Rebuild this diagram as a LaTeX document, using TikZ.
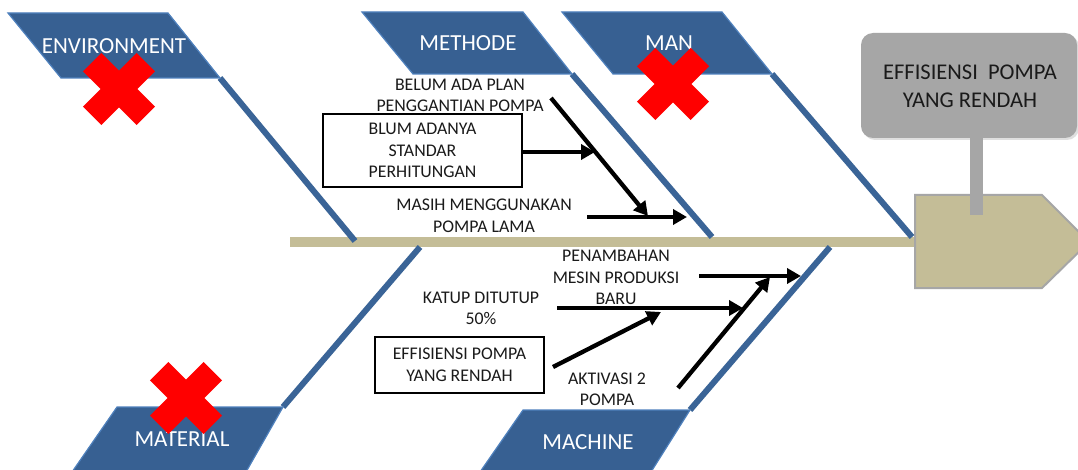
\documentclass[tikz,border=0pt]{standalone}
\usepackage{fontspec}
\setmainfont{Carlito}
\usetikzlibrary{arrows.meta,shadows}
\definecolor{bluefill}{HTML}{376092}
\definecolor{blueedge}{HTML}{4F81BD}
\definecolor{bonecol}{HTML}{3A6497}
\definecolor{tancol}{HTML}{C4BD97}
\definecolor{callgray}{HTML}{A6A6A6}
\definecolor{txtcol}{HTML}{1A1A1A}
\begin{document}
\begin{tikzpicture}[x=1pt,y=-1pt,
  cat/.style={text=white,font=\fontsize{23}{27}\selectfont,inner sep=0pt},
  lbl/.style={text=txtcol,font=\fontsize{17.8}{21.5}\selectfont,align=center,inner sep=0pt},
  framed/.style={draw=black,line width=2pt},
  arr/.style={draw=black,line width=4.3pt,-{Triangle[length=14pt,width=15pt]}},
  bonestyle/.style={draw=bonecol,line width=6pt},
  catshape/.style={fill=bluefill,draw=blueedge,line width=1.2pt},
  redx/.style={fill=red}]
\useasboundingbox (0,0) rectangle (1078,470);
\clip (0,0) rectangle (1078,470);
\fill[white] (0,0) rectangle (1078,470);

% spine
\fill[tancol] (290,237) rectangle (916,247);

% head
\draw[fill=tancol,draw=callgray,line width=2pt] (915,195) -- (1042,195) -- (1089,242) -- (1042,288) -- (915,288) -- cycle;

% callout
\fill[callgray,rounded corners=12pt,drop shadow={shadow xshift=2pt,shadow yshift=-2pt,opacity=0.25}] (861,33) rectangle (1077,138);
\fill[callgray] (970,137) rectangle (983,215);
\node[text=txtcol,font=\fontsize{22.5}{28}\selectfont,align=center,inner sep=0pt] (head) at (970,86) {EFFISIENSI\ \ POMPA\\YANG RENDAH};

% bones
\draw[bonestyle] (220,78) -- (355,241);
\draw[bonestyle] (572,74) -- (712,237);
\draw[bonestyle] (772,74) -- (912,237);
\draw[bonestyle] (283,407) -- (420,247);
\draw[bonestyle] (690,410) -- (830,247);

% category shapes
\draw[catshape] (8,13) -- (168,13) -- (220,78) -- (61,78) -- cycle;
\draw[catshape] (362,12) -- (523,12) -- (572,74) -- (413,74) -- cycle;
\draw[catshape] (562,12) -- (722,12) -- (772,74) -- (613,74) -- cycle;
\draw[catshape] (117,407) -- (283,407) -- (246,472) -- (72,472) -- cycle;
\draw[catshape] (523,410) -- (690,410) -- (651,472) -- (480,472) -- cycle;

\node[cat] (env) at (114,46) {ENVIRONMENT};
\node[cat] (met) at (468,43) {METHODE};
\node[cat] (man) at (669,43) {MAN};
\node[cat] (mat) at (182,439.5) {MATERIAL};
\node[cat] (mac) at (588,442) {MACHINE};

% labels
\node[lbl] (t1) at (460,95.5) {BELUM ADA PLAN\\PENGGANTIAN POMPA};
\node[lbl,framed,minimum width=199pt,minimum height=73pt] (b1) at (422.5,150.5) {BLUM ADANYA\\STANDAR\\PERHITUNGAN};
\node[lbl] (t2) at (484,216) {MASIH MENGGUNAKAN\\POMPA LAMA};
\node[lbl] (t3) at (616,277.5) {PENAMBAHAN\\MESIN PRODUKSI\\BARU};
\node[lbl] (t4) at (481,308.5) {KATUP DITUTUP\\50\%};
\node[lbl,framed,minimum width=169pt,minimum height=56pt] (b2) at (459.5,365) {EFFISIENSI POMPA\\YANG RENDAH};
\node[lbl] (t5) at (607,389.5) {AKTIVASI 2\\POMPA};

% arrow coordinates
\coordinate (p1s) at (551,98);  \coordinate (p1e) at (648,216);
\coordinate (p2e) at (595,152);
\coordinate (p3s) at (587,217); \coordinate (p3e) at (687,217);
\coordinate (q1s) at (699,276); \coordinate (q1e) at (801,276);
\coordinate (q2s) at (557,308); \coordinate (q2e) at (743,308);
\coordinate (q3e) at (661,312);
\coordinate (q4s) at (678,388); \coordinate (q4e) at (770,277);

\draw[arr] (p1s) -- (p1e);
\draw[arr] (b1.east |- p2e) -- (p2e);
\draw[arr] (p3s) -- (p3e);
\draw[arr] (q1s) -- (q1e);
\draw[arr] (q2s) -- (q2e);
\draw[arr] ([xshift=8pt,yshift=-2pt]b2.east) -- (q3e);
\draw[arr] (q4s) -- (q4e);

% red crosses
\foreach \cx/\cy in {119/89, 673/84, 186/398}{
  \fill[redx,shift={(\cx,\cy)},rotate=45]
    (13,-13) -- (38,-13) -- (38,13) -- (13,13) -- (13,38) -- (-13,38) -- (-13,13)
    -- (-38,13) -- (-38,-13) -- (-13,-13) -- (-13,-38) -- (13,-38) -- cycle;
}
\end{tikzpicture}
\end{document}
